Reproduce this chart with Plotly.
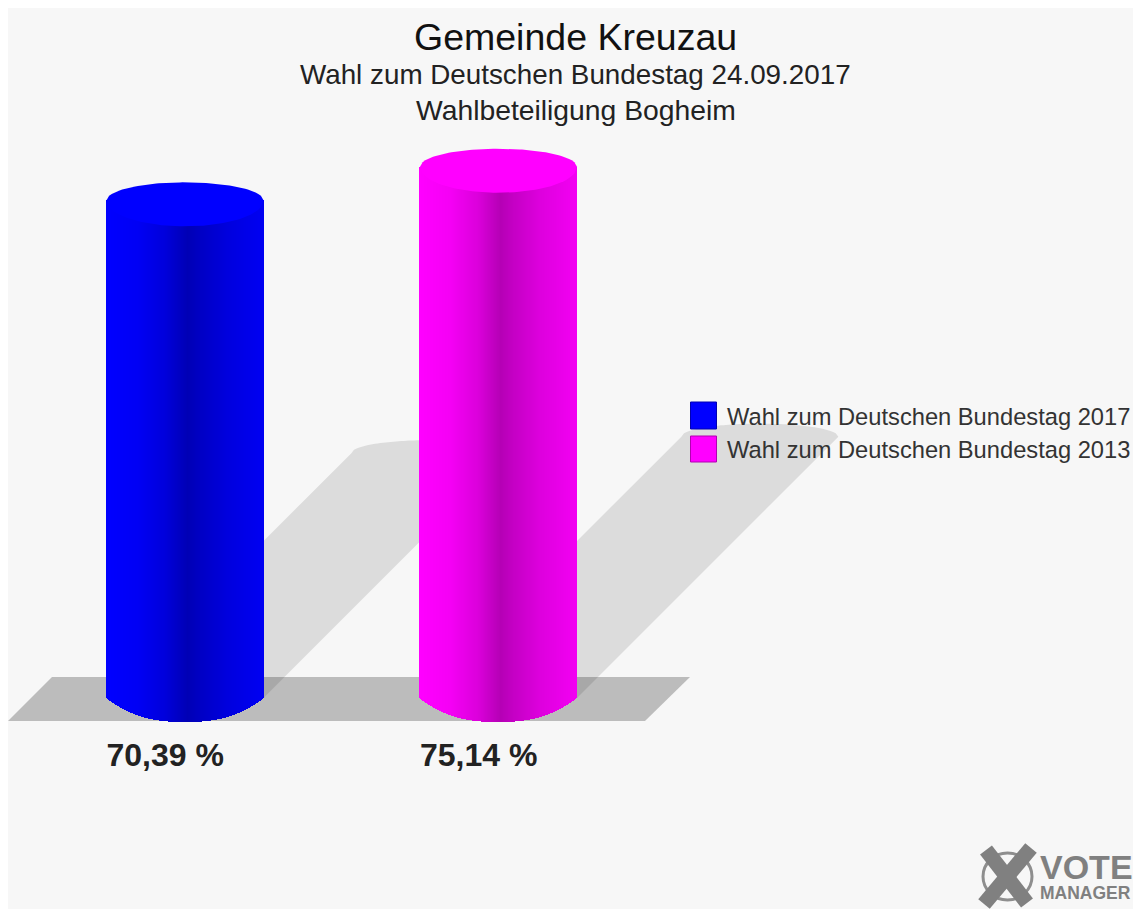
import math
import plotly.graph_objects as go

# ---- data ----
series_names = ["Wahl zum Deutschen Bundestag 2017", "Wahl zum Deutschen Bundestag 2013"]
values = [70.39, 75.14]
value_labels = ["70,39 %", "75,14 %"]
base_colors = [(0, 0, 255), (255, 0, 255)]
title_lines = ["Gemeinde Kreuzau", "Wahl zum Deutschen Bundestag 24.09.2017", "Wahlbeteiligung Bogheim"]

# ---- geometry / style (pixel values are page pixels; the page body has an 8px margin) ----
MARGIN = 8
W, H = 1125, 901
PX_PER_UNIT = 7.07      # vertical pixels per percent
BASE_PX = 698           # page row of value 0
X0_PX = 185             # page column of first cylinder
STEP_PX = 313.5         # pixel distance between cylinders
HALF_PX = 78.5          # half width of a cylinder
BG = "#f7f7f7"
FONT = "Liberation Sans"

ymax = (BASE_PX - MARGIN) / PX_PER_UNIT
ymin = (BASE_PX - MARGIN - H) / PX_PER_UNIT
xmin = -(X0_PX - MARGIN) / STEP_PX
xmax = (W - X0_PX + MARGIN) / STEP_PX
half = HALF_PX / STEP_PX
SHADE_STOPS = [(-1.0, 1.0), (-0.6, 0.96), (-0.25, 0.86), (0.04, 0.71), (0.2, 0.77), (0.55, 0.87), (1.0, 0.95)]


def shade(u):
    for (a, fa), (b, fb) in zip(SHADE_STOPS, SHADE_STOPS[1:]):
        if a <= u <= b:
            return fa + (fb - fa) * (u - a) / (b - a)
    return 1.0


def dx(p):
    return p / STEP_PX


def dv(p):
    return p / PX_PER_UNIT


def px(x):
    return (x - MARGIN) / W


def py(y):
    return 1 - (y - MARGIN) / H


def ell(u):
    return math.sqrt(max(0.0, 1 - u * u))


fig = go.Figure()
shapes = []

# floor
shapes.append(dict(type="path", xref="paper", yref="paper", layer="below", line_width=0,
                   fillcolor="#bcbcbc",
                   path=f"M {px(8)} {py(721)} L {px(52)} {py(677)} L {px(690)} {py(677)} L {px(645)} {py(721)} Z"))

# cast shadows
SHEAR = 0.492
N_ARC = 60
for i, v in enumerate(values):
    h = v * SHEAR
    sx = dx(h * PX_PER_UNIT)
    pts = [(i - half, 0), (i - half + sx, h)]
    for k in range(N_ARC + 1):
        u = -1 + 2 * k / N_ARC
        pts.append((i + u * half + sx, h + dv(13) * ell(u)))
    pts.append((i + half, 0))
    path = "M " + " L ".join(f"{a} {b}" for a, b in pts) + " Z"
    shapes.append(dict(type="path", xref="x", yref="y", layer="below", line_width=0,
                       fillcolor="rgba(0,0,0,0.105)", path=path))

# cylinder bodies: one thin bar per pixel column, shaded and curved at the foot
n = int(2 * HALF_PX)
for i, (v, col, name) in enumerate(zip(values, base_colors, series_names)):
    xs, ys, bases, cols = [], [], [], []
    for k in range(n):
        u = -1 + (2 * k + 1) / n
        f = shade(u)
        foot = -dv(24) * (1 - abs(u) ** 2.5)
        xs.append(i + u * half)
        bases.append(foot)
        ys.append(v - foot)
        cols.append(f"rgb({col[0] * f:.0f},{col[1] * f:.0f},{col[2] * f:.0f})")
    fig.add_trace(go.Bar(x=xs, y=ys, base=bases, width=dx(1.3), marker=dict(color=cols, line_width=0),
                         name=name, showlegend=False, hoverinfo="skip"))

# cylinder caps
for i, (v, col) in enumerate(zip(values, base_colors)):
    upper = [(-1 + 2 * k / N_ARC) for k in range(N_ARC + 1)]
    cx = [i + u * half for u in upper] + [i + u * half for u in reversed(upper)]
    cy = [v + dv(18) * ell(u) for u in upper] + [v - dv(26) * ell(u) for u in reversed(upper)]
    fig.add_trace(go.Scatter(x=cx, y=cy, mode="lines", fill="toself", line_width=0,
                             fillcolor=f"rgb{col}", showlegend=False, hoverinfo="skip"))

# value labels
fig.add_trace(go.Scatter(x=[i - half for i in range(len(values))], y=[dv(BASE_PX - 758)] * len(values), mode="text",
                         text=value_labels, textposition="middle right",
                         textfont=dict(family=FONT, size=32, color="#222222", weight=700),
                         showlegend=False, hoverinfo="skip", cliponaxis=False))

# legend
annotations = []
legend_rows = [(402, 429), (436, 462)]
for (t, b), col, name in zip(legend_rows, base_colors, series_names):
    dark = tuple(int(c * 0.7) for c in col)
    shapes.append(dict(type="rect", xref="paper", yref="paper", x0=px(690.5), x1=px(716.5), y0=py(b), y1=py(t),
                       fillcolor=f"rgb{col}", line=dict(color=f"rgb{dark}", width=1)))
    annotations.append(dict(xref="paper", yref="paper", x=px(725), y=py((t + b) / 2 + 1), xanchor="left",
                            yanchor="middle", text=name, showarrow=False,
                            font=dict(family=FONT, size=23.7, color="#333333")))

# titles
for line, yc, sz, colr in zip(title_lines, [37, 75, 110], [37.5, 27.8, 28.3], ["#111111", "#222222", "#222222"]):
    annotations.append(dict(xref="paper", yref="paper", x=px(575.5), y=py(yc), xanchor="center", yanchor="middle",
                            text=line, showarrow=False, font=dict(family=FONT, size=sz, color=colr)))

# VOTE MANAGER logo
GREY = "#808080"
shapes.append(dict(type="circle", xref="paper", yref="paper", x0=px(983), x1=px(1032), y0=py(900), y1=py(853),
                   line=dict(color="#8e8e8e", width=3)))
for (x0, y0, x1, y1) in [(986, 850, 1027, 903), (1031, 848, 984, 904)]:
    shapes.append(dict(type="line", xref="paper", yref="paper", x0=px(x0), y0=py(y0), x1=px(x1), y1=py(y1),
                       line=dict(color=GREY, width=15)))
annotations.append(dict(xref="paper", yref="paper", x=px(1038), y=py(875), xanchor="left", yanchor="middle",
                        align="left", showarrow=False, font=dict(family=FONT, size=15.5, color=GREY),
                        text="<b><span style='font-size:34px'>VOTE</span><br>"
                             "<span style='font-size:17.5px'>MANAGER</span></b>"))

fig.update_layout(
    width=W, height=H, autosize=False,
    margin=dict(l=0, r=0, t=0, b=0),
    paper_bgcolor=BG, plot_bgcolor=BG,
    barmode="overlay", bargap=0,
    showlegend=False,
    shapes=shapes, annotations=annotations,
    xaxis=dict(range=[xmin, xmax], visible=False, fixedrange=True),
    yaxis=dict(range=[ymin, ymax], visible=False, fixedrange=True),
)
fig.write_html("out.html", config=dict(displayModeBar=False),
               default_width=f"{W}px", default_height=f"{H}px",
               post_script=f"document.documentElement.style.overflow='hidden';"
                           f"document.body.style.width='{W}px';document.body.style.height='{H}px';"
                           f"document.body.style.overflow='visible';")
